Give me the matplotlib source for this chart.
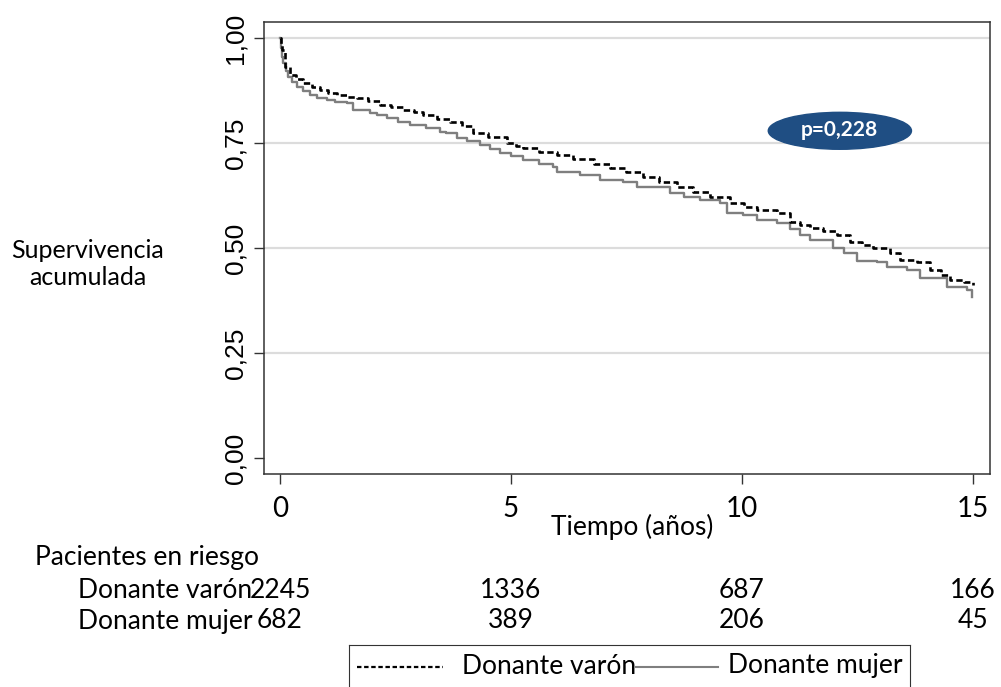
import matplotlib.pyplot as plt
from matplotlib.patches import Ellipse

# Kaplan-Meier estimates (time in years, cumulative survival)
t_varon = [0, 0.02, 0.04, 0.11, 0.22, 0.35, 0.5, 0.7, 0.87, 1.05, 1.23, 1.45, 1.67, 1.9,
           2.16, 2.4, 2.66, 2.9, 3.1, 3.4, 3.68, 3.95, 4.18, 4.5, 4.91, 5.1, 5.27, 5.6,
           6.0, 6.35, 6.8, 7.14, 7.5, 7.86, 8.2, 8.59, 8.95, 9.3, 9.74, 10.05, 10.32,
           10.76, 11.04, 11.26, 11.47, 11.75, 12.05, 12.34, 12.6, 12.84, 13.2, 13.42,
           13.79, 14.07, 14.3, 14.5, 14.8, 15.0]
s_varon = [1.0, 0.985, 0.971, 0.932, 0.912, 0.902, 0.893, 0.884, 0.876, 0.87, 0.864,
           0.86, 0.857, 0.849, 0.84, 0.835, 0.829, 0.823, 0.817, 0.808, 0.80, 0.791,
           0.774, 0.764, 0.75, 0.744, 0.738, 0.729, 0.721, 0.712, 0.699, 0.69, 0.68,
           0.67, 0.658, 0.646, 0.634, 0.622, 0.607, 0.598, 0.59, 0.583, 0.563, 0.555,
           0.548, 0.54, 0.531, 0.515, 0.508, 0.50, 0.488, 0.471, 0.467, 0.448, 0.436,
           0.424, 0.418, 0.412]

t_mujer = [0, 0.02, 0.04, 0.07, 0.12, 0.18, 0.26, 0.36, 0.5, 0.65, 0.8, 1.01, 1.2, 1.45,
           1.58, 1.95, 2.1, 2.31, 2.55, 2.81, 3.17, 3.46, 3.6, 3.83, 4.05, 4.33, 4.55,
           4.76, 5.0, 5.27, 5.6, 5.9, 6.0, 6.5, 6.93, 7.43, 7.72, 8.08, 8.44, 8.75, 9.09,
           9.52, 9.67, 10.02, 10.32, 10.76, 11.04, 11.26, 11.47, 11.97, 12.2, 12.49,
           12.92, 13.14, 13.57, 13.85, 14.44, 14.87, 14.98]
s_mujer = [1.0, 0.975, 0.955, 0.94, 0.922, 0.908, 0.895, 0.884, 0.873, 0.864, 0.857,
           0.852, 0.848, 0.845, 0.829, 0.821, 0.816, 0.81, 0.801, 0.793, 0.786, 0.777,
           0.774, 0.762, 0.754, 0.745, 0.735, 0.726, 0.718, 0.71, 0.70, 0.693, 0.681,
           0.674, 0.662, 0.658, 0.646, 0.645, 0.631, 0.622, 0.614, 0.607, 0.583, 0.579,
           0.567, 0.56, 0.545, 0.531, 0.519, 0.50, 0.487, 0.47, 0.467, 0.455, 0.448,
           0.429, 0.408, 0.40, 0.383]

# Number at risk
riesgo_t = [0, 5, 10, 15]
riesgo_varon = [2245, 1336, 687, 166]
riesgo_mujer = [682, 389, 206, 45]

p_label = 'p=0,228'
y_ticks = [0, 0.25, 0.5, 0.75, 1.0]
y_ticklabels = ['0,00', '0,25', '0,50', '0,75', '1,00']
x_ticks = [0, 5, 10, 15]

narrow = ['Lato', 'DejaVu Sans']
W, H = 1001, 687

fig = plt.figure(figsize=(W / 100, H / 100), dpi=100)
ax = fig.add_axes([264 / W, 1 - 474 / H, (990 - 264) / W, (474 - 22) / H])

for g in [0.25, 0.5, 0.75, 1.0]:
    ax.axhline(g, color='#dcdcdc', lw=1.6, zorder=0)

ax.plot(t_mujer, s_mujer, drawstyle='steps-post', color='#7f7f7f', lw=1.7)
ax.plot(t_varon, s_varon, drawstyle='steps-post', color='black', lw=1.9,
        linestyle=(0, (2.4, 1.3)))

ax.set_xlim(-0.346, 15.37)
ax.set_ylim(-0.038, 1.038)
ax.set_yticks(y_ticks)
ax.set_yticklabels(y_ticklabels, rotation=90, va='center',
                   fontsize=19, family=['Liberation Sans', 'DejaVu Sans'])
ax.set_xticks(x_ticks)
ax.set_xticklabels([str(x) for x in x_ticks], fontsize=20, family=narrow)
ax.tick_params(axis='both', length=7, width=1, color='#333333')
ax.tick_params(axis='y', pad=5)
ax.tick_params(axis='x', pad=9)
for sp in ax.spines.values():
    sp.set_color('#333333')
    sp.set_linewidth(1.1)

# p-value badge
ax.add_patch(Ellipse((12.12, 0.779), 3.1, 0.088, color='#1f4e83', zorder=5))
ax.text(12.12, 0.781, p_label, color='white', fontsize=15, fontweight='bold',
        family=narrow, ha='center', va='center', zorder=6)

fig.text(88 / W, 1 - 264 / H, 'Supervivencia\nacumulada', ha='center', va='center',
         fontsize=18, family=narrow, linespacing=1.25)

fig.text(632 / W, 1 - 527 / H, 'Tiempo (años)', ha='center', va='center',
         fontsize=19, family=narrow)
fig.text(35 / W, 1 - 557 / H, 'Pacientes en riesgo', ha='left', va='center',
         fontsize=19, family=narrow)

# risk table rows, numbers aligned under the x ticks
for label, vals, ypix in [('Donante varón', riesgo_varon, 590),
                          ('Donante mujer', riesgo_mujer, 621)]:
    fig.text(252 / W, 1 - ypix / H, label, ha='right', va='center',
             fontsize=19, family=narrow)
    for t, v in zip(riesgo_t, vals):
        xf = (280 + t * 46.2) / W
        fig.text(xf, 1 - ypix / H, str(v), ha='center', va='center',
                 fontsize=19, family=narrow)

# legend box below the table
lg = fig.add_axes([349 / W, 0, (910 - 349) / W, (687 - 645) / H])
lg.set_xlim(0, 561)
lg.set_ylim(0, 42)
lg.set_xticks([])
lg.set_yticks([])
lg.spines['bottom'].set_visible(False)
for side in ['top', 'left', 'right']:
    lg.spines[side].set_color('#333333')
lg.plot([8, 94], [20, 20], color='black', lw=1.6, linestyle=(0, (2, 1.2)))
lg.text(113, 21, 'Donante varón', fontsize=19, family=narrow, va='center')
lg.plot([287, 369], [20, 20], color='#7f7f7f', lw=1.5)
lg.text(379, 21, 'Donante mujer', fontsize=19, family=narrow, va='center')

fig.savefig('out.png', dpi=100)
